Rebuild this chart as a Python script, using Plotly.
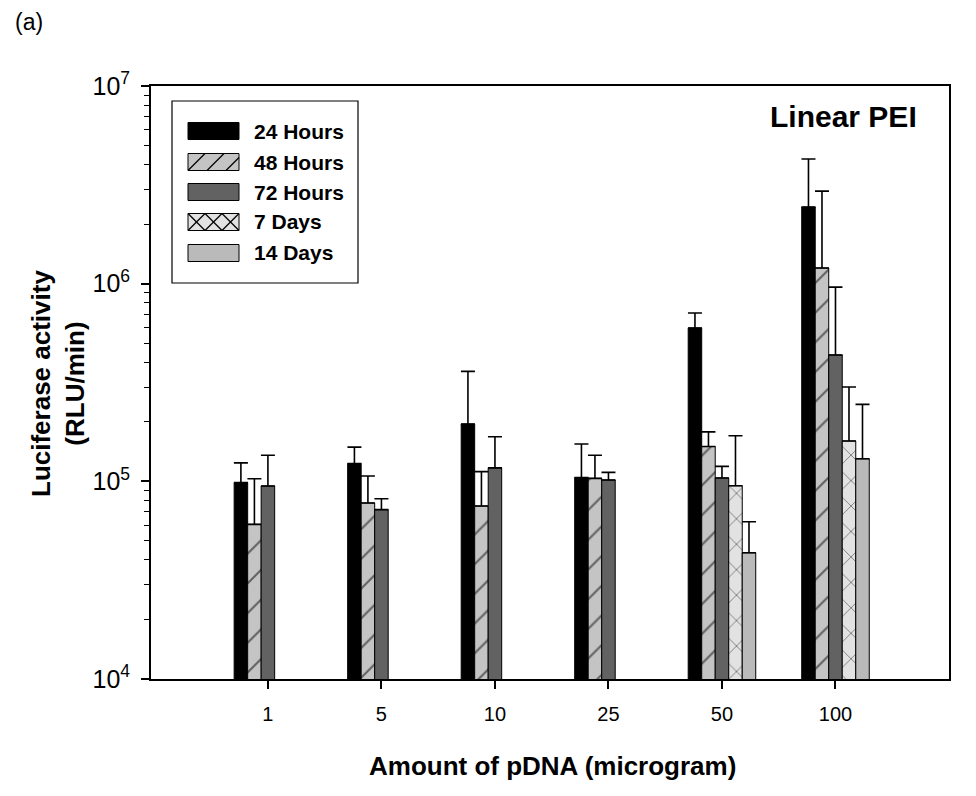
import plotly.graph_objects as go

# ---------------- data ----------------
categories = ["1", "5", "10", "25", "50", "100"]
series_names = ["24 Hours", "48 Hours", "72 Hours", "7 Days", "14 Days"]

h24 = [9.85e4, 1.23e5, 1.95e5, 1.045e5, 5.97e5, 2.44e6]
h24_sd = [2.55e4, 2.6e4, 1.65e5, 5.0e4, 1.13e5, 1.83e6]
h48 = [6.06e4, 7.77e4, 7.5e4, 1.035e5, 1.5e5, 1.2e6]
h48_sd = [4.24e4, 2.87e4, 3.7e4, 3.2e4, 2.8e4, 1.74e6]
h72 = [9.47e4, 7.19e4, 1.17e5, 1.016e5, 1.04e5, 4.36e5]
h72_sd = [4.08e4, 9.8e3, 5.1e4, 9.4e3, 1.5e4, 5.24e5]
d7 = [None, None, None, None, 9.5e4, 1.6e5]
d7_sd = [None, None, None, None, 7.5e4, 1.4e5]
d14 = [None, None, None, None, 4.35e4, 1.3e5]
d14_sd = [None, None, None, None, 1.9e4, 1.15e5]

y_tickvals = [1e4, 1e5, 1e6, 1e7]
y_ticktext = ["10<sup>4</sup>", "10<sup>5</sup>", "10<sup>6</sup>", "10<sup>7</sup>"]

# ---------------- styling ----------------
FONT = "Arial, 'Liberation Sans', Helvetica, sans-serif"
styles = [
    dict(color="#000000", pattern=None),
    dict(color="#c4c4c4", pattern=dict(shape="/", fgcolor="#000000", bgcolor="#c4c4c4", size=21, solidity=0.1)),
    dict(color="#626262", pattern=None),
    dict(color="#e2e2e2", pattern=dict(shape="x", fgcolor="#000000", bgcolor="#e2e2e2", size=18, solidity=0.09)),
    dict(color="#bababa", pattern=None),
]
values = [h24, h48, h72, d7, d14]
sds = [h24_sd, h48_sd, h72_sd, d7_sd, d14_sd]

x_idx = list(range(len(categories)))

fig = go.Figure()
for name, vals, sd, st in zip(series_names, values, sds, styles):
    marker = dict(color=st["color"], line=dict(color="#000000", width=1))
    if st["pattern"] is not None:
        marker["pattern"] = st["pattern"]
    fig.add_trace(go.Bar(
        x=x_idx, y=vals, name=name, marker=marker, showlegend=False,
        error_y=dict(type="data", symmetric=False, array=sd,
                     arrayminus=[0 if v is not None else None for v in sd],
                     color="#000000", thickness=1.6, width=7),
    ))

# page offset of the plotly div (default body margin)
OFF = 8
# plot area in page pixels
L, R, T, B = 151, 949, 86, 679
W, H = 976 - 2 * OFF, 796 - 2 * OFF


def px(xp):
    return (xp - L) / (R - L)


def py(yp):
    return (B - yp) / (B - T)


minor_vals = [m * 10 ** e for e in range(4, 7) for m in range(2, 10)]

fig.update_layout(
    width=W, height=H,
    margin=dict(l=L - OFF, r=W - (R - OFF), t=T - OFF, b=H - (B - OFF)),
    paper_bgcolor="white", plot_bgcolor="white",
    barmode="group", bargap=0.405, bargroupgap=0,
    font=dict(family=FONT, color="#000000"),
    xaxis=dict(
        range=[-1.03, 6.0], tickmode="array", tickvals=x_idx, ticktext=categories,
        ticks="outside", ticklen=8, tickwidth=1.5, tickcolor="#000000",
        showline=True, linecolor="#000000", linewidth=1.8, mirror=True,
        showgrid=False, zeroline=False, tickfont=dict(size=20, family=FONT),
        ticklabelstandoff=8,
    ),
    yaxis=dict(
        type="log", range=[4, 7], tickmode="array", tickvals=y_tickvals, ticktext=y_ticktext,
        ticks="outside", ticklen=8, tickwidth=1.5, tickcolor="#000000",
        minor=dict(tickmode="array", tickvals=minor_vals, ticks="outside", ticklen=5,
                   tickwidth=1.2, tickcolor="#000000", showgrid=False),
        showline=True, linecolor="#000000", linewidth=1.8, mirror=True,
        showgrid=False, zeroline=False, tickfont=dict(size=25, family=FONT),
        ticklabelstandoff=6,
    ),
)

annotations = [
    dict(text="<b>Luciferase activity<br>(RLU/min)</b>", x=px(58), y=py(384), xref="paper", yref="paper",
         textangle=-90, showarrow=False, font=dict(size=26, family=FONT), xanchor="center", yanchor="middle"),
    dict(text="<b>Amount of pDNA (microgram)</b>", x=px(552), y=py(766), xref="paper", yref="paper",
         showarrow=False, font=dict(size=26, family=FONT), xanchor="center", yanchor="middle"),
    dict(text="<b>Linear PEI</b>", x=px(919), y=py(117), xref="paper", yref="paper",
         showarrow=False, font=dict(size=30, family=FONT), xanchor="right", yanchor="middle"),
    dict(text="(a)", x=px(13), y=py(22), xref="paper", yref="paper",
         showarrow=False, font=dict(size=23, family=FONT), xanchor="left", yanchor="middle"),
]

shapes = [
    dict(type="rect", xref="paper", yref="paper", x0=px(172), x1=px(358), y0=py(283), y1=py(101),
         line=dict(color="#000000", width=1.2), fillcolor="rgba(0,0,0,0)", layer="above"),
]
row_y = [131, 162, 192, 222, 253]
sw_x0, sw_x1, sw_h = 188, 239, 17
for i, (name, st) in enumerate(zip(series_names, styles)):
    cy = row_y[i]
    y0, y1 = cy + sw_h / 2, cy - sw_h / 2
    shapes.append(dict(type="rect", xref="paper", yref="paper", x0=px(sw_x0), x1=px(sw_x1),
                       y0=py(y0), y1=py(y1), fillcolor=st["color"],
                       line=dict(color="#000000", width=1), layer="above"))
    if st["pattern"] is not None and st["pattern"]["shape"] == "/":
        for off in [0, 19, 38]:
            xa = sw_x0 + off
            xb = min(xa + sw_h, sw_x1)
            yb = y0 - (xb - xa)
            shapes.append(dict(type="line", xref="paper", yref="paper", x0=px(xa), x1=px(xb),
                               y0=py(y0), y1=py(yb), line=dict(color="#000000", width=1.2), layer="above"))
    if st["pattern"] is not None and st["pattern"]["shape"] == "x":
        step = 17
        for k in range(3):
            xa = sw_x0 + k * step
            xb = xa + step
            shapes.append(dict(type="line", xref="paper", yref="paper", x0=px(xa), x1=px(xb),
                               y0=py(y0), y1=py(y1), line=dict(color="#000000", width=1.2), layer="above"))
            shapes.append(dict(type="line", xref="paper", yref="paper", x0=px(xa), x1=px(xb),
                               y0=py(y1), y1=py(y0), line=dict(color="#000000", width=1.2), layer="above"))
    annotations.append(dict(text=f"<b>{name}</b>", x=px(252), y=py(cy), xref="paper", yref="paper",
                            showarrow=False, font=dict(size=21, family=FONT), xanchor="left", yanchor="middle"))

fig.update_layout(annotations=annotations, shapes=shapes)
fig.write_html("out.html")
